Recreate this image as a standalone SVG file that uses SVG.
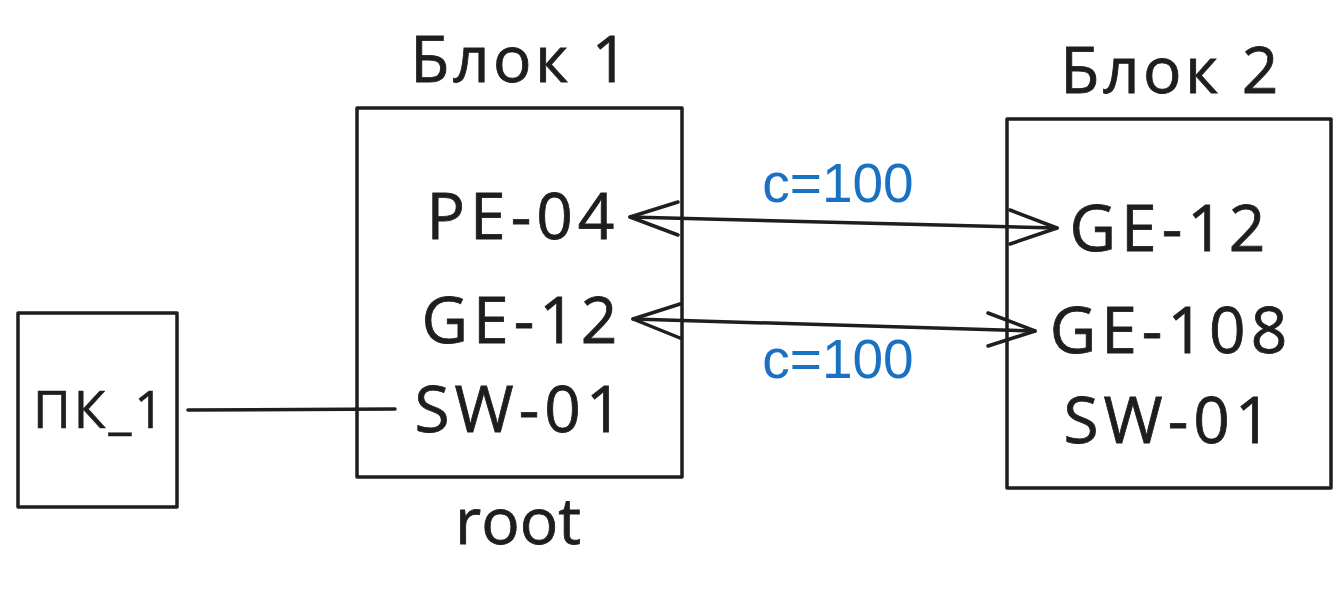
<svg xmlns="http://www.w3.org/2000/svg" width="1344" height="609" viewBox="0 0 1344 609">
<defs>
<style>
.box{fill:none;stroke:#1e1e1e;stroke-width:3.5;stroke-linejoin:round}
.ln{fill:none;stroke:#1e1e1e;stroke-width:3.5;stroke-linecap:round;stroke-linejoin:round}
.t{font-family:"Open Sans","Noto Sans",sans-serif;font-size:64px;fill:#1e1e1e;stroke:#1e1e1e;stroke-width:0.8px;text-anchor:middle;letter-spacing:5px}
.r{font-family:"Open Sans","Noto Sans",sans-serif;font-size:64px;fill:#1e1e1e;stroke:#1e1e1e;stroke-width:0.8px;text-anchor:middle}
.s{font-family:"Open Sans","Noto Sans",sans-serif;font-size:52px;fill:#1e1e1e;stroke:#1e1e1e;stroke-width:0.6px;text-anchor:middle;letter-spacing:3px}
.c{font-family:"Liberation Sans",Arial,sans-serif;font-size:55px;fill:#1971c2;text-anchor:middle}
</style>
</defs>
<rect width="1344" height="609" fill="#ffffff"/>
<g id="block1">
<rect class="box" x="357" y="108" width="325" height="369"/>
<text class="t" x="521" y="82" style="letter-spacing:3.5px">Блок 1</text>
<text class="t" x="523" y="239">PE-04</text>
<text class="t" x="522" y="343">GE-12</text>
<text class="t" x="521" y="432">SW-01</text>
<text class="r" x="518" y="544">root</text>
</g>
<g id="block2">
<rect class="box" x="1007" y="119" width="324" height="369"/>
<text class="t" x="1171" y="93" style="letter-spacing:3.5px">Блок 2</text>
<text class="t" x="1170" y="251">GE-12</text>
<text class="t" x="1171" y="353">GE-108</text>
<text class="t" x="1170" y="443">SW-01</text>
</g>
<g id="pc1">
<rect class="box" x="18" y="313" width="159" height="194"/>
<text class="s" x="100" y="428">ПК_1</text>
</g>
<g id="connectors">
<path class="ln" d="M630,217 L1057,228"/>
<path class="ln" d="M678,202 L630,217 L678,235"/>
<path class="ln" d="M1010,210 L1057,228 L1010,244"/>
<path class="ln" d="M633,319 L1035,331"/>
<path class="ln" d="M680,304 L633,319 L680,338"/>
<path class="ln" d="M988,313 L1035,331 L988,346"/>
<path class="ln" d="M188,410 L395,409"/>
<text class="c" x="838" y="202">c=100</text>
<text class="c" x="838" y="378">c=100</text>
</g>
</svg>
